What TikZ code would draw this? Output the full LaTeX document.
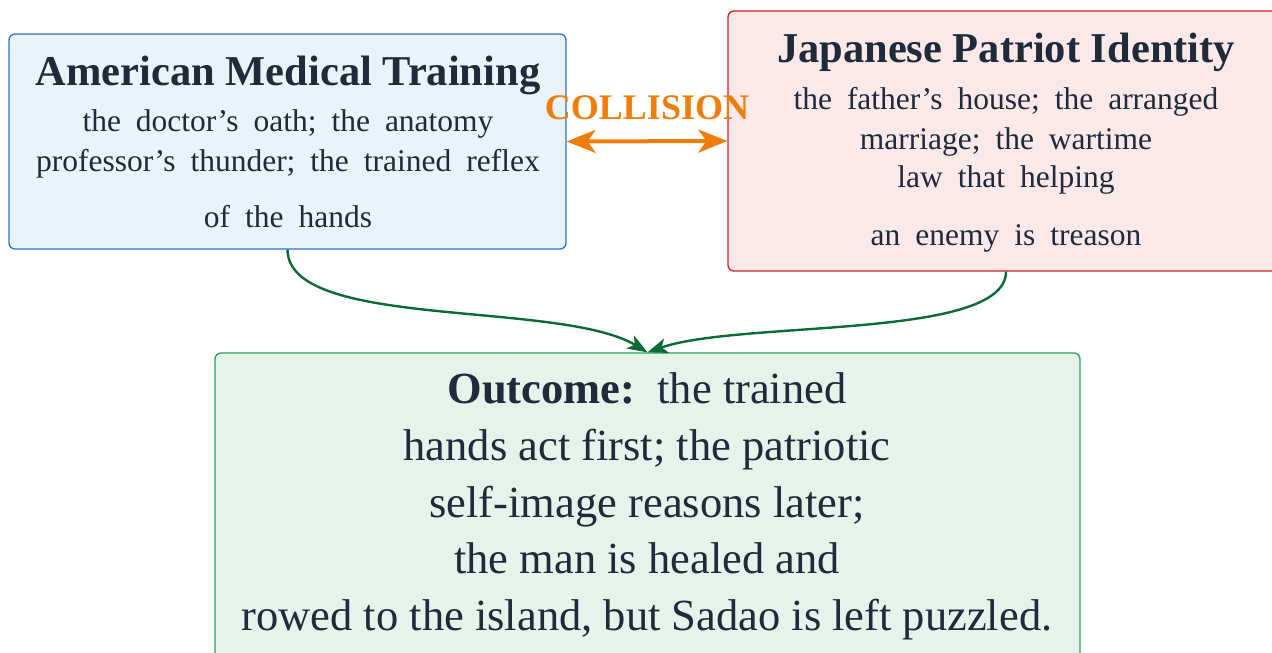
\documentclass[tikz,border=0pt]{standalone}
\usepackage{fontspec}
\setmainfont{Liberation Serif}
\newfontfamily\widefont{Liberation Serif}[WordSpace=1.9]
\usetikzlibrary{arrows.meta}
\definecolor{ink}{HTML}{1F2A3A}
\definecolor{bluefill}{HTML}{EAF2FA}
\definecolor{blueline}{HTML}{2A74C9}
\definecolor{redfill}{HTML}{FBE9E9}
\definecolor{redline}{HTML}{CC1F2A}
\definecolor{greenfill}{HTML}{E5F3EB}
\definecolor{greenline}{HTML}{28A05A}
\definecolor{arrowgreen}{HTML}{0B6B36}
\definecolor{collide}{HTML}{EF7D0A}
\tikzset{
  box/.style={draw, line width=1.3pt, rounded corners=6pt, inner sep=0pt},
  title/.style={text=ink, font=\fontsize{42.5}{48}\selectfont\bfseries, inner sep=0pt},
  body/.style={text=ink, font=\widefont\fontsize{31.5}{36}\selectfont, inner sep=0pt},
  outtext/.style={text=ink, font=\fontsize{44.5}{50}\selectfont, inner sep=0pt},
  link/.style={draw=arrowgreen, line width=2.4pt, -{Stealth[length=20pt,width=15pt,inset=5pt]}},
}
\begin{document}
\begin{tikzpicture}[x=1pt,y=-1pt]
\useasboundingbox (0,0) rectangle (1272,653);
% boxes
\node[box, draw=blueline, fill=bluefill, minimum width=557pt, minimum height=215pt] (blue) at (287.5,141.5) {};
\node[box, draw=redline, fill=redfill, minimum width=556pt, minimum height=260pt] (red) at (1006,141) {};
\node[box, draw=greenline, fill=greenfill, minimum width=865pt, minimum height=330pt] (green) at (647.5,518) {};
% blue text
\node[title, anchor=base] (bt) at (288,85) {American Medical Training};
\node[body, anchor=base] (b1) at (288,131) {the doctor’s oath; the anatomy};
\node[body, anchor=base] (b2) at (288,171) {professor’s thunder; the trained reflex};
\node[body, anchor=base] (b3) at (288,227) {of the hands};
% red text
\node[title, anchor=base] (rt) at (1006,62) {Japanese Patriot Identity};
\node[body, anchor=base] (r1) at (1006,109) {the father’s house; the arranged};
\node[body, anchor=base] (r2) at (1006,149) {marriage; the wartime};
\node[body, anchor=base] (r3) at (1006,187) {law that helping};
\node[body, anchor=base] (r4) at (1006,245) {an enemy is treason};
% green text
\node[outtext, anchor=base] (g1) at (647,403) {\textbf{Outcome:}\ \ the trained};
\node[outtext, anchor=base] (g2) at (647,460) {hands act first; the patriotic};
\node[outtext, anchor=base] (g3) at (647,517) {self-image reasons later;};
\node[outtext, anchor=base] (g4) at (647,573) {the man is healed and};
\node[outtext, anchor=base] (g5) at (647,630) {rowed to the island, but Sadao is left puzzled.};
% collision
\node[text=collide, font=\fontsize{36}{40}\selectfont\bfseries, inner sep=0pt, anchor=base] (col) at (647,119) {COLLISION};
\draw[draw=collide, line width=4pt, {Stealth[length=29pt,width=23pt,inset=8pt]}-{Stealth[length=29pt,width=23pt,inset=8pt]}] (blue.east) -- (red.west);
% connectors
\draw[link] (blue.south) .. controls (288,330) and (560,300) .. (green.north);
\draw[link] (red.south) .. controls (1006,340) and (740,320) .. (green.north);
\end{tikzpicture}
\end{document}
